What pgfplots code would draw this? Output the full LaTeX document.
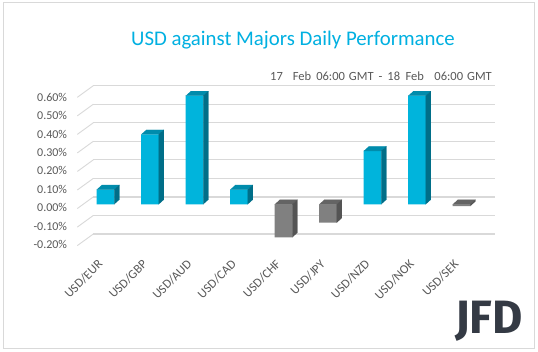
\documentclass[border=0pt]{standalone}
\usepackage{fontspec}
\setmainfont{Carlito}
\newfontfamily\logofont{Fira Sans}
\usepackage{pgfplots}
\pgfplotsset{compat=1.18}
\definecolor{cyF}{RGB}{0,180,220}
\definecolor{cyT}{RGB}{0,140,172}
\definecolor{cyS}{RGB}{0,110,136}
\definecolor{grF}{RGB}{128,128,128}
\definecolor{grT}{RGB}{100,100,100}
\definecolor{grS}{RGB}{84,84,84}
\definecolor{txt}{RGB}{89,89,89}
\definecolor{gridc}{RGB}{217,217,217}
\definecolor{ttl}{RGB}{0,176,225}
\definecolor{logo}{RGB}{52,58,68}
\begin{document}
\begin{tikzpicture}[x=1bp,y=1bp]
\useasboundingbox (0,0) rectangle (538,351);
\fill[white] (0,0) rectangle (538,351);
\draw[gridc, line width=1bp] (3,3) rectangle (534,348);

% back wall with gridlines
\begin{axis}[at={(93.3bp,117bp)}, anchor=south west, scale only axis,
  width=401.7bp, height=148.3bp, xmin=0, xmax=401.7, ymin=-0.2, ymax=0.6,
  ytick={-0.2,-0.1,0,0.1,0.2,0.3,0.4,0.5,0.6}, yticklabels={},
  xtick=\empty, ymajorgrids, major grid style={gridc, line width=1.2bp},
  axis line style={draw=none}, major tick length=0pt, clip=false]
\addplot[gridc, line width=0.9bp, unbounded coords=jump] coordinates {
 (-16,-0.2627) (0,-0.2) (0,nan)
 (-16,-0.1627) (0,-0.1) (0,nan)
 (-16,-0.0627) (0,0) (0,nan)
 (-16,0.0373) (0,0.1) (0,nan)
 (-16,0.1373) (0,0.2) (0,nan)
 (-16,0.2373) (0,0.3) (0,nan)
 (-16,0.3373) (0,0.4) (0,nan)
 (-16,0.4373) (0,0.5) (0,nan)
 (-16,0.5373) (0,0.6)};
\end{axis}

% bars
\begin{axis}[at={(83.25bp,109.9bp)}, anchor=south west, scale only axis,
  width=400.5bp, height=147.2bp, xmin=-0.5, xmax=8.5, ymin=-0.2, ymax=0.6,
  clip=false, axis line style={draw=none}, major tick length=0pt,
  ytick={-0.2,-0.1,0,0.1,0.2,0.3,0.4,0.5,0.6},
  yticklabels={-0.20\%,-0.10\%,0.00\%,0.10\%,0.20\%,0.30\%,0.40\%,0.50\%,0.60\%},
  yticklabel style={anchor=east, inner sep=0pt, font=\fontsize{12bp}{14bp}\selectfont, text=txt, xshift=-16bp, yshift=-3.4bp},
  xtick={0,1,2,3,4,5,6,7,8},
  xticklabels={USD/EUR,USD/GBP,USD/AUD,USD/CAD,USD/CHF,USD/JPY,USD/NZD,USD/NOK,USD/SEK},
  xticklabel style={xshift=-5bp, rotate=45, anchor=east, inner sep=0pt, font=\fontsize{12.6bp}{14bp}\selectfont, text=txt},
  xticklabel shift=21bp]
% front faces
\addplot[ybar, bar width=17.6bp, fill=cyF, draw=none] coordinates {
 (0,0.08) (1,0.38) (2,0.59) (3,0.08) (6,0.29) (7,0.59)};
\addplot[ybar, bar width=17.6bp, fill=grF, draw=none] coordinates {
 (4,-0.18) (5,-0.10) (8,-0.01)};
% top faces (cyan)
\addplot[fill=cyT, draw=cyT, line width=0.2bp, unbounded coords=jump] coordinates {
 (-0.1978,0.08) (0.1978,0.08) (0.3102,0.1045) (-0.0854,0.1045) (0,nan)
 (0.8022,0.38) (1.1978,0.38) (1.3102,0.4045) (0.9146,0.4045) (0,nan)
 (1.8022,0.59) (2.1978,0.59) (2.3102,0.6145) (1.9146,0.6145) (0,nan)
 (2.8022,0.08) (3.1978,0.08) (3.3102,0.1045) (2.9146,0.1045) (0,nan)
 (5.8022,0.29) (6.1978,0.29) (6.3102,0.3145) (5.9146,0.3145) (0,nan)
 (6.8022,0.59) (7.1978,0.59) (7.3102,0.6145) (6.9146,0.6145)};
% side faces (cyan)
\addplot[fill=cyS, draw=cyS, line width=0.2bp, unbounded coords=jump] coordinates {
 (0.1978,0) (0.1978,0.08) (0.3102,0.1045) (0.3102,0.0245) (0,nan)
 (1.1978,0) (1.1978,0.38) (1.3102,0.4045) (1.3102,0.0245) (0,nan)
 (2.1978,0) (2.1978,0.59) (2.3102,0.6145) (2.3102,0.0245) (0,nan)
 (3.1978,0) (3.1978,0.08) (3.3102,0.1045) (3.3102,0.0245) (0,nan)
 (6.1978,0) (6.1978,0.29) (6.3102,0.3145) (6.3102,0.0245) (0,nan)
 (7.1978,0) (7.1978,0.59) (7.3102,0.6145) (7.3102,0.0245)};
% top faces (grey)
\addplot[fill=grT, draw=grT, line width=0.2bp, unbounded coords=jump] coordinates {
 (3.8022,0) (4.1978,0) (4.3102,0.0245) (3.9146,0.0245) (0,nan)
 (4.8022,0) (5.1978,0) (5.3102,0.0245) (4.9146,0.0245) (0,nan)
 (7.8022,0) (8.1978,0) (8.3102,0.0245) (7.9146,0.0245)};
% side faces (grey)
\addplot[fill=grS, draw=grS, line width=0.2bp, unbounded coords=jump] coordinates {
 (4.1978,-0.18) (4.1978,0) (4.3102,0.0245) (4.3102,-0.1555) (0,nan)
 (5.1978,-0.10) (5.1978,0) (5.3102,0.0245) (5.3102,-0.0755) (0,nan)
 (8.1978,-0.01) (8.1978,0) (8.3102,0.0245) (8.3102,0.0145)};
\end{axis}

\node[anchor=center, inner sep=0pt, text=ttl, font=\fontsize{20.8bp}{24bp}\selectfont] at (293,310.5) {USD against Majors Daily Performance};
\node[anchor=east, inner sep=0pt, text=txt, font=\fontsize{12.5bp}{14bp}\selectfont] at (492,275) {17\hspace{10bp}Feb\hspace{5bp}06:00\hspace{4bp}GMT\hspace{5bp}-\hspace{5bp}18\hspace{5.5bp}Feb\hspace{10.5bp}06:00\hspace{4bp}GMT};
\node[anchor=south west, inner sep=0pt, text=logo] at (455,9.3) {\resizebox{67.7bp}{32.4bp}{\logofont\bfseries JFD}};
\end{tikzpicture}
\end{document}
